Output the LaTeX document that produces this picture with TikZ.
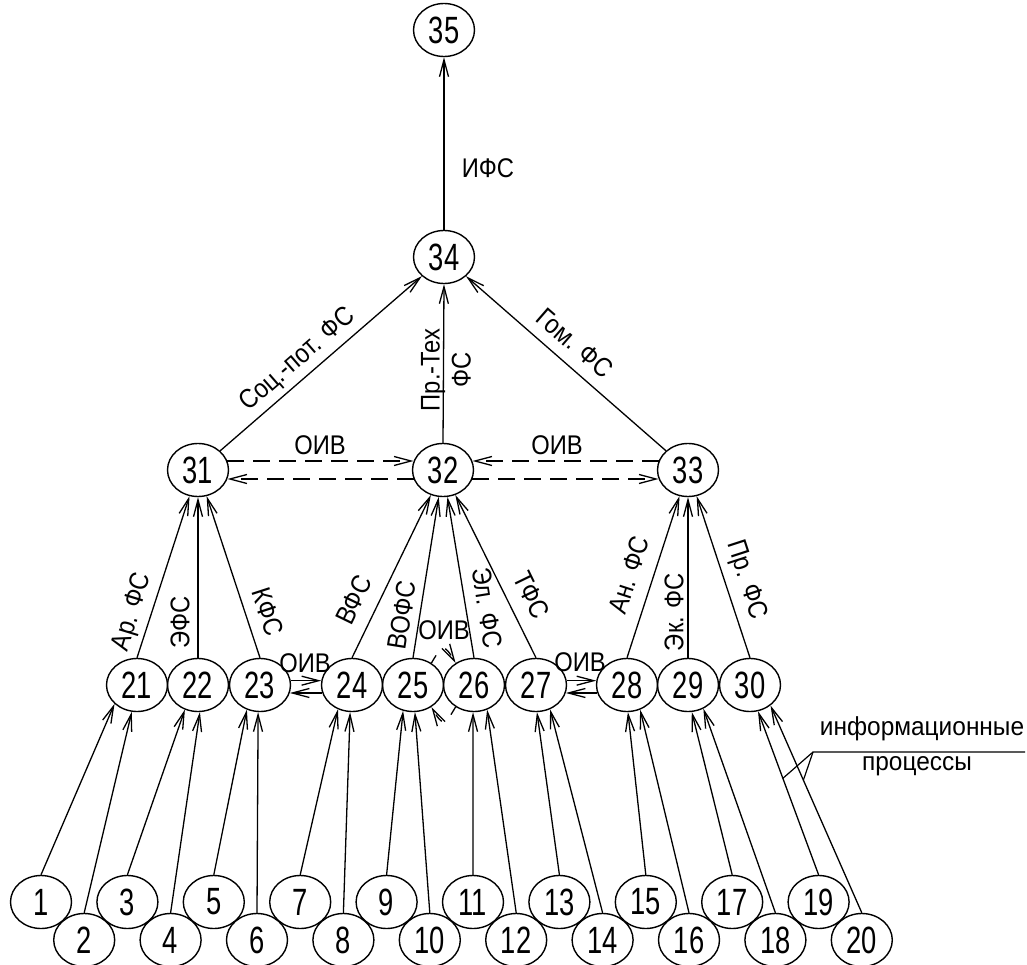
\documentclass[tikz,border=0pt]{standalone}
\usepackage{fontspec}
\setmainfont{Liberation Sans}[FakeStretch=0.72]
\newfontfamily\lblf{Liberation Sans}[FakeStretch=0.88]
\newfontfamily\wideLbl{Liberation Sans}[FakeStretch=0.94]
\usetikzlibrary{shapes.geometric,arrows.meta}
\begin{document}
\begin{tikzpicture}[x=1pt,y=-1pt,
  vtx/.style={ellipse,draw,line width=1.4pt,minimum width=61pt,minimum height=53pt,inner sep=0pt,font=\fontsize{38}{40}\selectfont},
  lbl/.style={inner sep=0pt,font=\lblf\fontsize{27}{31}\selectfont,align=center},
  note/.style={inner sep=0pt,font=\wideLbl\fontsize{26}{30}\selectfont},
  arr/.style={line width=1.3pt,-{Straight Barb[length=17pt,width=9pt]}},
  dsh/.style={arr,dash pattern=on 17pt off 9pt},
  arcdsh/.style={arr,dash pattern=on 9pt off 12pt},
  leader/.style={line width=1.2pt}]
\useasboundingbox (0,0) rectangle (1027,965);
% top
\node[vtx] (n35) at (444,30) {35};
\node[vtx] (n34) at (444,257) {34};
\node[vtx] (n31) at (198,470) {31};
\node[vtx] (n32) at (443,470) {32};
\node[vtx] (n33) at (688,470) {33};
% row 2
\node[vtx] (n21) at (137,685) {21};
\node[vtx] (n22) at (198,685) {22};
\node[vtx] (n23) at (260,685) {23};
\node[vtx] (n24) at (352,685) {24};
\node[vtx] (n25) at (413,685) {25};
\node[vtx] (n26) at (474,685) {26};
\node[vtx] (n27) at (536,685) {27};
\node[vtx] (n28) at (627,685) {28};
\node[vtx] (n29) at (688,685) {29};
\node[vtx] (n30) at (750,685) {30};
% bottom rows
\node[vtx] (b1) at (41,902) {1};
\node[vtx] (b2) at (84.2,940) {2};
\node[vtx] (b3) at (127.4,902) {3};
\node[vtx] (b4) at (170.6,940) {4};
\node[vtx] (b5) at (213.8,902) {5};
\node[vtx] (b6) at (257,940) {6};
\node[vtx] (b7) at (300.2,902) {7};
\node[vtx] (b8) at (343.4,940) {8};
\node[vtx] (b9) at (386.6,902) {9};
\node[vtx] (b10) at (429.8,940) {10};
\node[vtx] (b11) at (473,902) {11};
\node[vtx] (b12) at (516.2,940) {12};
\node[vtx] (b13) at (559.4,902) {13};
\node[vtx] (b14) at (602.6,940) {14};
\node[vtx] (b15) at (645.8,902) {15};
\node[vtx] (b16) at (689,940) {16};
\node[vtx] (b17) at (732.2,902) {17};
\node[vtx] (b18) at (775.4,940) {18};
\node[vtx] (b19) at (818.6,902) {19};
\node[vtx] (b20) at (861.8,940) {20};
% bottom -> row 2
\draw[arr] (b1.north) -- (n21.220);
\draw[arr] (b2.north) -- (n21.259);
\draw[arr] (b3.north) -- (n22.242);
\draw[arr] (b4.north) -- (n22.274);
\draw[arr] (b5.north) -- (n23.242);
\draw[arr] (b6.north) -- (n23.266);
\draw[arr] (b7.north) -- (n24.240);
\draw[arr] (b8.north) -- (n24.266);
\draw[arr] (b9.north) -- (n25.249);
\draw[arr] (b10.north) -- (n25.274);
\draw[arr] (b11.north) -- (n26.268);
\draw[arr] (b12.north) -- (n26.298);
\draw[arr] (b13.north) -- (n27.272);
\draw[arr] (b14.north) -- (n27.300);
\draw[arr] (b15.north) -- (n28.272);
\draw[arr] (b16.north) -- (n28.298);
\draw[arr] (b17.north) -- (n29.278);
\draw[arr] (b18.north) -- (n29.303);
\draw[arr] (b19.north) -- coordinate[pos=0.59] (p19) (n30.287);
\draw[arr] (b20.north) -- coordinate[pos=0.64] (p20) (n30.315);
% row 2 -> row 3
\draw[arr] (n21.north) -- (n31);
\draw[arr] (n22.north) -- (n31.south);
\draw[arr] (n23.north) -- (n31);
\draw[arr] (n24.north) -- (n32);
\draw[arr] (n25.north) -- (n32);
\draw[arr] (n26.north) -- (n32);
\draw[arr] (n27.north) -- (n32);
\draw[arr] (n28.north) -- (n33);
\draw[arr] (n29.north) -- (n33.south);
\draw[arr] (n30.north) -- (n33);
% row 3 -> 34 -> 35
\draw[arr] (n31) -- (n34);
\draw[arr] (n32.north) -- (n34.south);
\draw[arr] (n33) -- (n34);
\draw[arr] (n34.north) -- (n35.south);
% dashed OIV between 31,32,33
\draw[dsh] (n31.17) -- (n32.163);
\draw[dsh] (n32.197) -- (n31.-17);
\draw[dsh] (n33.163) -- (n32.17);
\draw[dsh] (n32.-17) -- (n33.197);
% OIV between 23-24 and 27-28
\draw[arr] (n23.8) -- (n24.172);
\draw[arr] (n24.195) -- (n23.-15);
\draw[arr] (n27.8) -- (n28.172);
\draw[arr] (n28.195) -- (n27.-15);
% OIV arcs between 25-26
\draw[arcdsh] (n25.50) .. controls +(11,-19) and +(-11,-19) .. (n26.130);
\draw[arcdsh] (n26.230) .. controls +(-11,19) and +(11,19) .. (n25.310);
% labels
\node[lbl] (tIFS) at (488,168) {ИФС};
\node[lbl,rotate=41] (tSoc) at (298,360) {Соц.-пот. ФС};
\node[lbl,rotate=90] (tPr) at (446,370) {Пр.-Тех\\ФС};
\node[lbl,rotate=-41] (tGom) at (575,343) {Гом. ФС};
\node[lbl] (tO1) at (320,445) {ОИВ};
\node[lbl] (tO2) at (557,445) {ОИВ};
\node[lbl,rotate=73] (tAr) at (133,612) {Ар. ФС};
\node[lbl,rotate=90] (tE) at (180,622) {ЭФС};
\node[lbl,rotate=-72] (tK) at (268,612) {КФС};
\node[lbl,rotate=64] (tV) at (354,600) {ВФС};
\node[lbl,rotate=81] (tVO) at (402,615) {ВОФС};
\node[lbl,rotate=-81] (tEl) at (487,608) {Эл. ФС};
\node[lbl,rotate=-64] (tT) at (532,595) {ТФС};
\node[lbl,rotate=72] (tAn) at (629,575) {Ан. ФС};
\node[lbl,rotate=90] (tEk) at (674,612) {Эк. ФС};
\node[lbl,rotate=-72] (tPrF) at (746,580) {Пр. ФС};
\node[lbl] (tO3) at (305,663) {ОИВ};
\node[lbl] (tO4) at (444,630) {ОИВ};
\node[lbl] (tO5) at (580,662) {ОИВ};
% information processes note
\coordinate (j) at (813,752);
\coordinate (uend) at (1025,752);
\node[note] (tInf) at (922,729) {информационные};
\node[note] (tProc) at (917,766) {процессы};
\draw[leader] (p19) -- (j) -- (uend);
\draw[leader] (p20) -- (j);
\end{tikzpicture}
\end{document}
